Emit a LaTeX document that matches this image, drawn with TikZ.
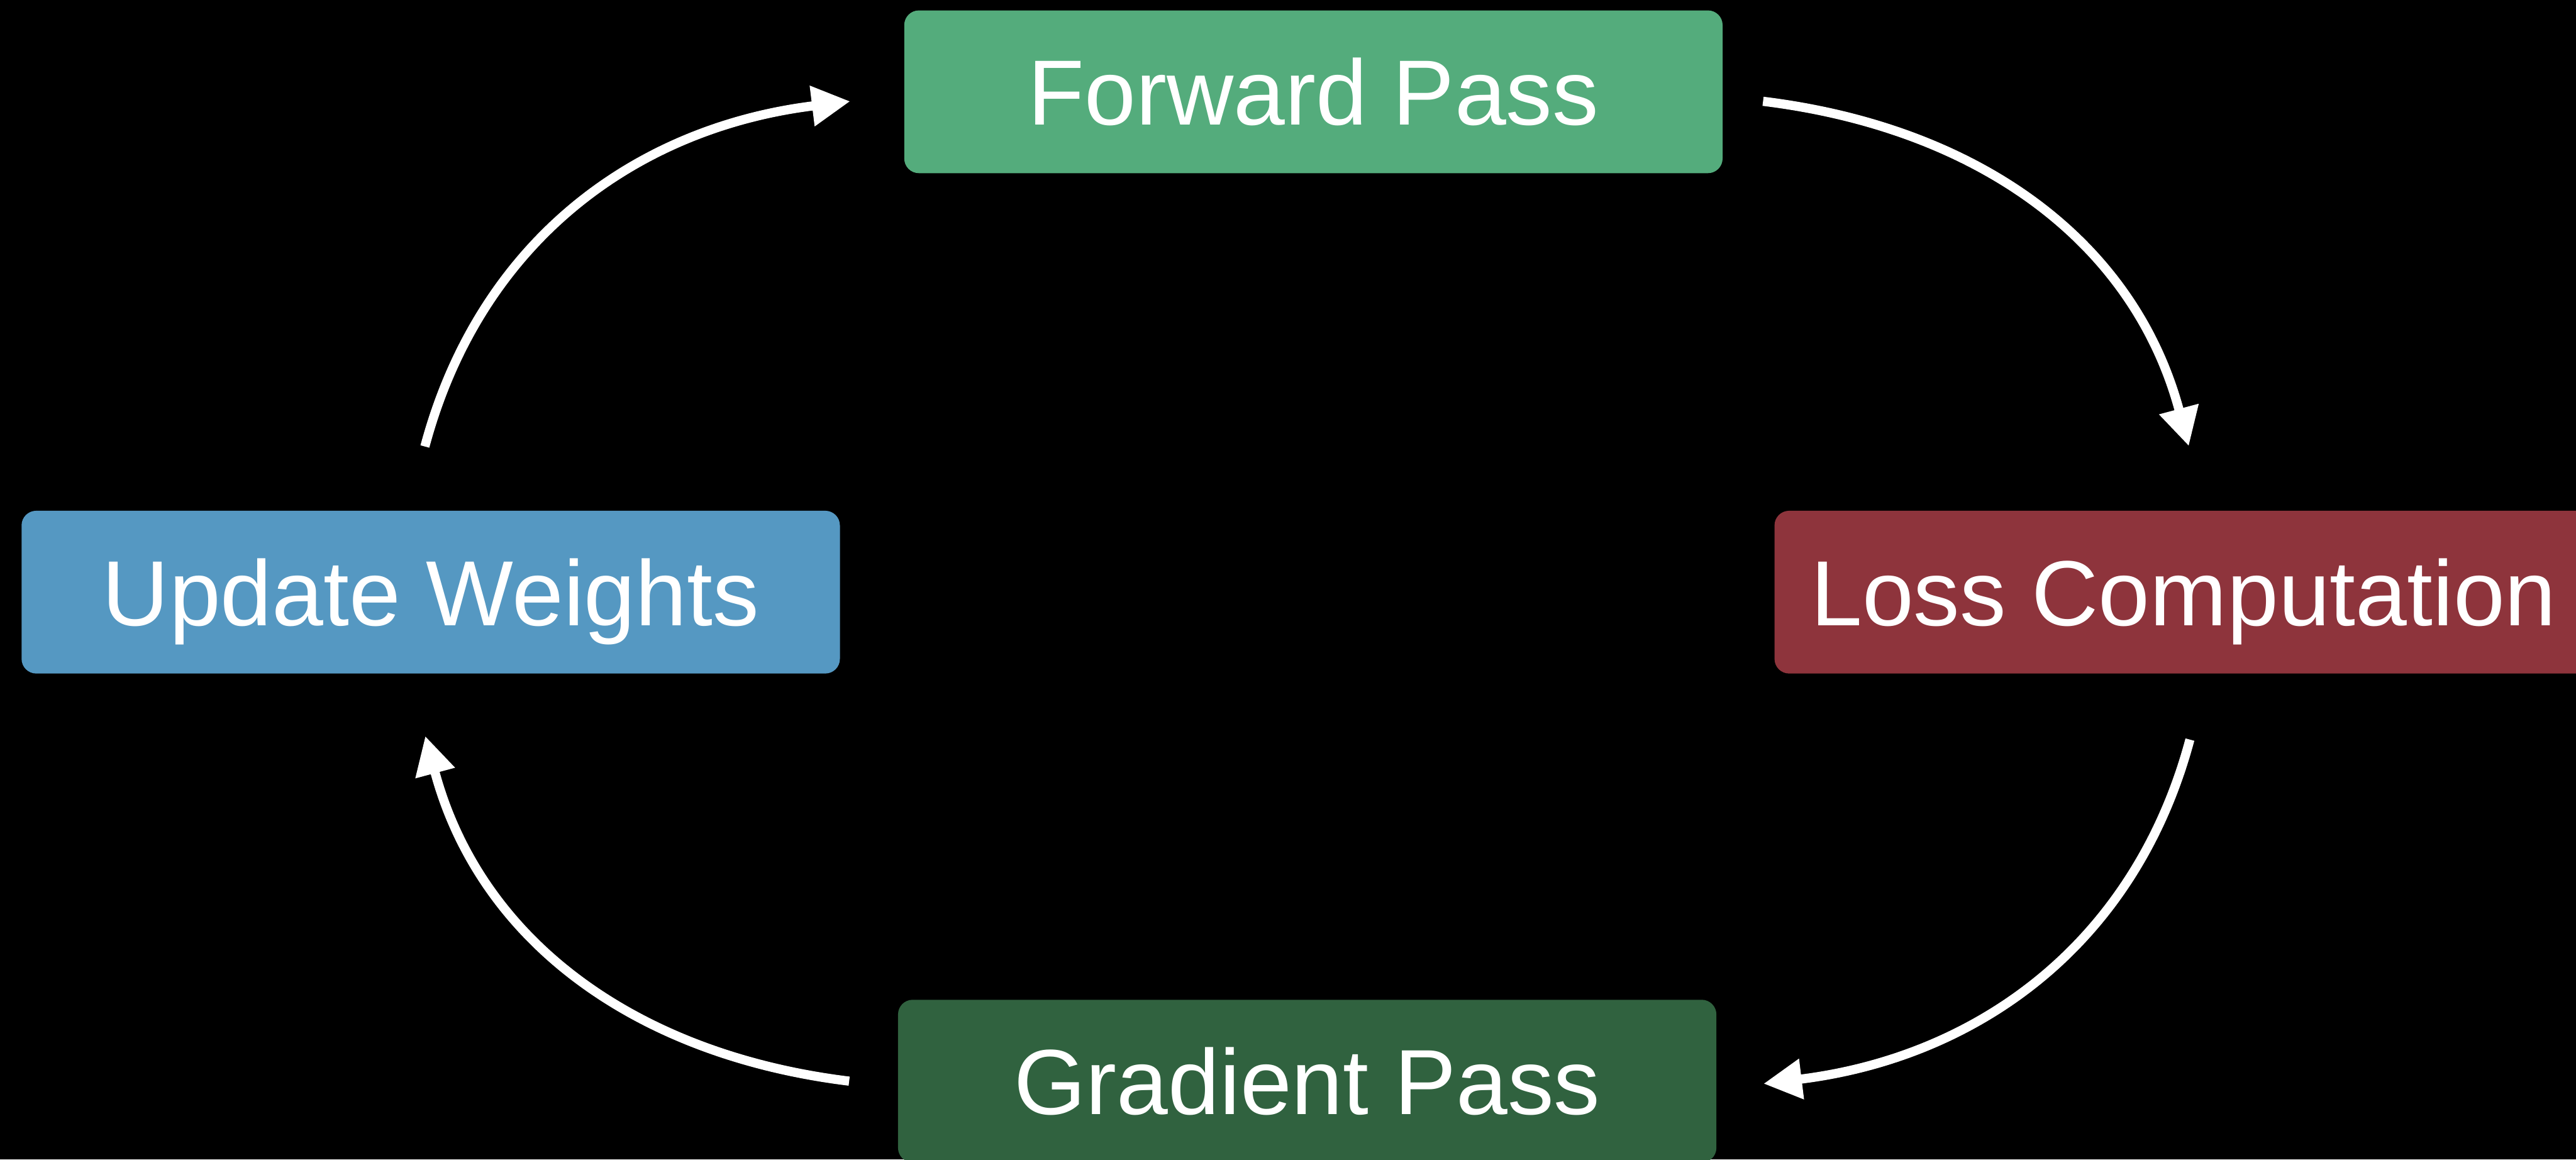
\documentclass[tikz,border=0pt]{standalone}
\usepackage{fontspec}
\setsansfont{Liberation Sans}
\usepackage{tikz}
\usetikzlibrary{positioning,arrows.meta,calc}
\definecolor{lpFwd}{HTML}{54AC7C}
\definecolor{lpLoss}{HTML}{8E343C}
\definecolor{lpUpd}{HTML}{5598C2}
\definecolor{lpGrad}{HTML}{30623F}

\begin{document}
\begin{tikzpicture}[
      font=\sffamily,
      stage/.style={rectangle, rounded corners=.4cm, minimum width=22.38cm,
        minimum height=4.45cm, inner sep=0pt, text=white,
        text height=1.82cm, text depth=0pt,
        font=\sffamily\fontsize{72}{86}\selectfont},
      flow/.style={draw=white, line width=.25cm,
        -{Triangle[length=1.05cm,width=1.05cm]}}
    ]
      \path[use as bounding box, fill=black] (0,0) rectangle (70.45,-31.70);

      \node[stage, fill=lpFwd]  (fwd)  at (35.92,-2.51)  {Forward Pass};
      \node[stage, fill=lpUpd]  (upd)  at (11.78,-16.19) {Update Weights};
      \node[stage, fill=lpLoss] (loss) at (59.72,-16.19) {Loss Computation};
      \node[stage, fill=lpGrad] (grad) at (35.75,-29.56) {Gradient Pass};

      \draw[flow] ([shift={(-.16,1.75)}]upd.north) to[out=75, in=187] ([shift={(-1.47,-.26)}]fwd.west);
      \draw[flow] ([shift={(1.10,-.26)}]fwd.east) to[out=-7, in=105] ([shift={(.14,1.76)}]loss.north);
      \draw[flow] ([shift={(.17,-1.80)}]loss.south) to[out=255, in=7] ([shift={(1.28,-.07)}]grad.east);
      \draw[flow] ([shift={(-1.33,0)}]grad.west) to[out=173, in=-75] ([shift={(-.15,-1.70)}]upd.south);
    \end{tikzpicture}
\end{document}
